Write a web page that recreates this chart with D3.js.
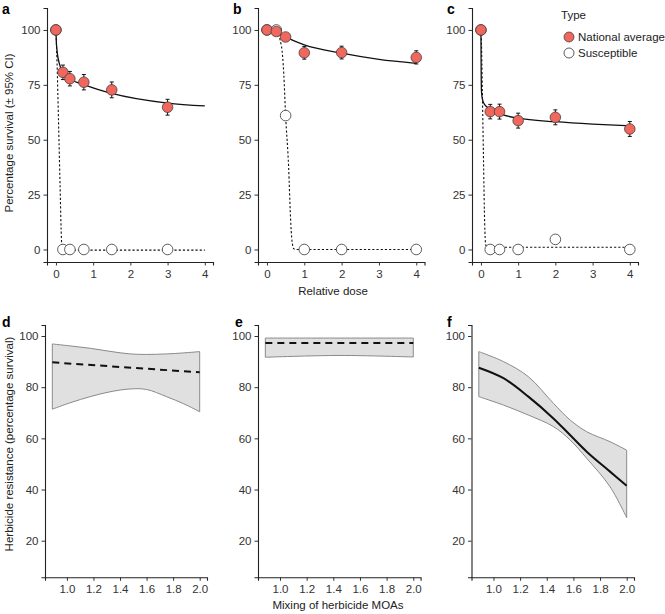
<!DOCTYPE html>
<html>
<head>
<meta charset="utf-8">
<script src="https://cdn.jsdelivr.net/npm/d3@7"></script>
<style>
body { margin: 0; background: #fff; }
text { font-family: "Liberation Sans", Arial, sans-serif; }
</style>
</head>
<body>
<svg id="svg_main" width="665" height="614"></svg>
<script>
// ---- panel a-c: dose response ----
var doseA = [0, 0.1875, 0.375, 0.75, 1.5, 3];
var natA = [100, 80.7, 77.8, 76.2, 72.7, 64.8];
var ciA = [0.5, 3.3, 3.3, 3.5, 3.6, 3.6];
var susA = [100, 0, 0, 0, 0, 0];
var fitNatDoseA = [0, 0.01, 0.03, 0.09, 0.18, 0.375, 0.77, 1.5, 3, 4];
var fitNatA = [100, 95, 90.5, 84.8, 81, 77.8, 75, 71.1, 66.7, 65.4];
var fitSusDoseA = [0, 0.03, 0.07, 0.11, 0.14, 0.16, 0.2, 4];
var fitSusA = [100, 85, 58, 30, 9, 1, -0.3, -0.3];

var doseB = [0, 0.25, 0.5, 1, 2, 4];
var natB = [100, 99.3, 96.8, 89.6, 89.7, 87.5];
var ciB = [0.5, 1, 1.2, 2.9, 2.9, 3];
var susB = [100, 100, 61, 0, 0, 0];
var fitNatDoseB = [0, 0.25, 0.5, 1, 2, 3, 4];
var fitNatB = [100, 98.8, 96.7, 93.2, 89.4, 86.6, 84.8];
var fitSusDoseB = [0, 0.25, 0.39, 0.45, 0.5, 0.58, 0.63, 0.67, 0.72, 0.8, 4];
var fitSusB = [100, 99, 92.4, 80, 61, 37.6, 14.9, 4, 0.3, 0, 0];

var doseC = [0, 0.25, 0.5, 1, 2, 4];
var natC = [100, 62.8, 62.8, 58.7, 60.2, 54.9];
var ciC = [0.5, 3.3, 3.4, 3.4, 3.4, 3.4];
var susC = [100, 0, 0, 0, 4.6, 0];
var fitNatDoseC = [0, 0.005, 0.015, 0.04, 0.1, 0.25, 0.6, 1, 2, 3, 4];
var fitNatC = [100, 85, 72, 68.5, 66, 64, 61.3, 59.8, 58.2, 57.1, 56.3];
var fitSusDoseC = [0, 0.02, 0.04, 0.07, 0.1, 0.13, 0.2, 4];
var fitSusC = [100, 90, 70, 40, 12, 2, 1, 1];

var doseTicks = [0, 1, 2, 3, 4];
var survTicks = [0, 25, 50, 75, 100];

// ---- panel d-f: mixing of MOAs ----
var mixD = [0.89, 1.03, 1.175, 1.325, 1.475, 1.6, 1.75, 1.88, 2.0];
var upperD = [96.9, 96.1, 95.2, 94, 93, 92.8, 93, 93.4, 93.9];
var lowerD = [71.4, 74, 76.3, 78.2, 79.3, 79.1, 76.3, 73.5, 70.4];
var fitMixD = [0.89, 2.0];
var fitD = [89.7, 85.8];

var mixE = [0.89, 1.45, 2.0];
var upperE = [99.2, 99.2, 99.2];
var lowerE = [91.7, 92.4, 91.8];
var fitMixE = [0.89, 2.0];
var fitE = [97.3, 97.3];

var mixF = [0.89, 1.075, 1.262, 1.45, 1.575, 1.70, 1.875, 2.0];
var upperF = [93.9, 90, 84.1, 73.7, 67.2, 62.6, 58.7, 55.4];
var lowerF = [76.3, 73, 69.1, 64.6, 59.4, 52.2, 41.1, 29];
var fitF = [87.6, 83.5, 76.3, 67.8, 61.3, 54.8, 47, 41.5];

var mixTicks = [1.0, 1.2, 1.4, 1.6, 1.8, 2.0];
var resTicks = [20, 40, 60, 80, 100];

var svg = d3.select("#svg_main");
var red = "#f0675d";

function zip(xs, ys) { return xs.map((x, i) => [x, ys[i]]); }

function axes(g, x, y, xt, yt, fmt) {
	g.append("g")
		.attr("transform", `translate(0, ${y.range()[0]})`)
		.call(d3.axisBottom(x).tickValues(xt).tickSizeOuter(0).tickSize(3.5).tickPadding(4).tickFormat(fmt));
	g.append("g")
		.attr("transform", `translate(${x.range()[0]}, 0)`)
		.call(d3.axisLeft(y).tickValues(yt).tickSizeOuter(0).tickSize(3.5).tickPadding(3));
	g.selectAll(".domain").attr("stroke", "#222").attr("stroke-width", 1.1);
	g.selectAll(".tick line").attr("stroke", "#333");
	g.selectAll(".tick text").attr("font-size", "11.5px").attr("fill", "#333")
		.attr("font-family", "Liberation Sans, Arial, sans-serif");
}

function dosePanel(xr, label, lx, d) {
	var x = d3.scaleLinear().domain([-0.24, 4.22]).range(xr);
	var y = d3.scaleLinear().domain([-5.7, 110]).range([262, 8]);
	var g = svg.append("g");
	axes(g, x, y, doseTicks, survTicks, d3.format("d"));

	var line = d3.line().x(p => x(p[0])).y(p => y(p[1])).curve(d3.curveMonotoneX);
	g.append("path").attr("d", line(zip(d.fsx, d.fs)))
		.attr("fill", "none").attr("stroke", "#111").attr("stroke-width", 1.1)
		.attr("stroke-dasharray", "2.2,2");
	g.append("path").attr("d", line(zip(d.fnx, d.fn)))
		.attr("fill", "none").attr("stroke", "#111").attr("stroke-width", 1.3);

	g.selectAll(".sus").data(zip(d.dose, d.sus)).enter().append("circle")
		.attr("cx", p => x(p[0])).attr("cy", p => y(p[1])).attr("r", 5.3)
		.attr("fill", "#fff").attr("stroke", "#333").attr("stroke-width", 0.8);

	var nat = d.dose.map((v, i) => ({ x: v, y: d.nat[i], ci: d.ci[i] }));
	var eb = g.selectAll(".eb").data(nat.filter(p => p.ci > 1)).enter().append("g");
	eb.append("line").attr("x1", p => x(p.x)).attr("x2", p => x(p.x))
		.attr("y1", p => y(p.y - p.ci)).attr("y2", p => y(p.y + p.ci));
	eb.append("line").attr("x1", p => x(p.x) - 2).attr("x2", p => x(p.x) + 2)
		.attr("y1", p => y(p.y - p.ci)).attr("y2", p => y(p.y - p.ci));
	eb.append("line").attr("x1", p => x(p.x) - 2).attr("x2", p => x(p.x) + 2)
		.attr("y1", p => y(p.y + p.ci)).attr("y2", p => y(p.y + p.ci));
	eb.selectAll("line").attr("stroke", "#111").attr("stroke-width", 1);

	g.selectAll(".nat").data(nat).enter().append("circle")
		.attr("cx", p => x(p.x)).attr("cy", p => y(p.y)).attr("r", 5.3)
		.attr("fill", red).attr("stroke", "#333").attr("stroke-width", 0.7);

	g.append("text").attr("x", lx).attr("y", 14)
		.attr("font-size", "14px").attr("font-weight", "bold").text(label);
}

function mixPanel(xr, label, lx, d) {
	var x = d3.scaleLinear().domain([0.835, 2.055]).range(xr);
	var y = d3.scaleLinear().domain([5.7, 104.3]).range([577.3, 325]);
	var g = svg.append("g");
	axes(g, x, y, mixTicks, resTicks, d3.format(".1f"));

	var smooth = d3.curveCatmullRom.alpha(0.5);
	var area = d3.area().x(p => x(p[0])).y0(p => y(p[1])).y1(p => y(p[2])).curve(smooth);
	var pts = d.mx.map((v, i) => [v, d.lo[i], d.up[i]]);
	g.append("path").attr("d", area(pts) + "Z")
		.attr("fill", "#e0e0e0").attr("stroke", "#8a8a8a").attr("stroke-width", 1);

	var line = d3.line().x(p => x(p[0])).y(p => y(p[1])).curve(smooth);
	var l = g.append("path").attr("d", line(zip(d.fx, d.fit)))
		.attr("fill", "none").attr("stroke", "#111").attr("stroke-width", 2);
	if (d.dashed) l.attr("stroke-dasharray", "7,5");

	g.append("text").attr("x", lx).attr("y", 327)
		.attr("font-size", "14px").attr("font-weight", "bold").text(label);
}

dosePanel([47, 213], "a", 2, { dose: doseA, nat: natA, ci: ciA, sus: susA,
	fnx: fitNatDoseA, fn: fitNatA, fsx: fitSusDoseA, fs: fitSusA });
dosePanel([258, 424.5], "b", 233, { dose: doseB, nat: natB, ci: ciB, sus: susB,
	fnx: fitNatDoseB, fn: fitNatB, fsx: fitSusDoseB, fs: fitSusB });
dosePanel([472, 638], "c", 447, { dose: doseC, nat: natC, ci: ciC, sus: susC,
	fnx: fitNatDoseC, fn: fitNatC, fsx: fitSusDoseC, fs: fitSusC });

mixPanel([45, 207], "d", 2, { mx: mixD, up: upperD, lo: lowerD, fx: fitMixD, fit: fitD, dashed: true });
mixPanel([258, 420.6], "e", 235, { mx: mixE, up: upperE, lo: lowerE, fx: fitMixE, fit: fitE, dashed: true });
mixPanel([471.5, 634], "f", 447, { mx: mixF, up: upperF, lo: lowerF, fx: mixF, fit: fitF, dashed: false });

// axis titles
svg.append("text").attr("transform", "translate(13, 133) rotate(-90)")
	.attr("text-anchor", "middle").attr("font-size", "11.5px").attr("fill", "#222")
	.text("Percentage survival (\u00b1 95% CI)");
svg.append("text").attr("transform", "translate(13, 444) rotate(-90)")
	.attr("text-anchor", "middle").attr("font-size", "11.5px").attr("fill", "#222")
	.text("Herbicide resistance (percentage survival)");
svg.append("text").attr("x", 333).attr("y", 295)
	.attr("text-anchor", "middle").attr("font-size", "11.5px").attr("fill", "#222")
	.text("Relative dose");
svg.append("text").attr("x", 338).attr("y", 609)
	.attr("text-anchor", "middle").attr("font-size", "11.5px").attr("fill", "#222")
	.text("Mixing of herbicide MOAs");

// legend
var legend = svg.append("g").attr("class", "legend");
legend.append("text").attr("x", 561).attr("y", 19).attr("font-size", "11.5px").attr("fill", "#222").text("Type");
legend.append("circle").attr("cx", 569).attr("cy", 37).attr("r", 5)
	.attr("fill", red).attr("stroke", "#333").attr("stroke-width", 0.7);
legend.append("text").attr("x", 578).attr("y", 41).attr("font-size", "11.5px").attr("fill", "#222").text("National average");
legend.append("circle").attr("cx", 569).attr("cy", 53).attr("r", 5)
	.attr("fill", "#fff").attr("stroke", "#333").attr("stroke-width", 0.8);
legend.append("text").attr("x", 578).attr("y", 57).attr("font-size", "11.5px").attr("fill", "#222").text("Susceptible");
</script>
</body>
</html>
